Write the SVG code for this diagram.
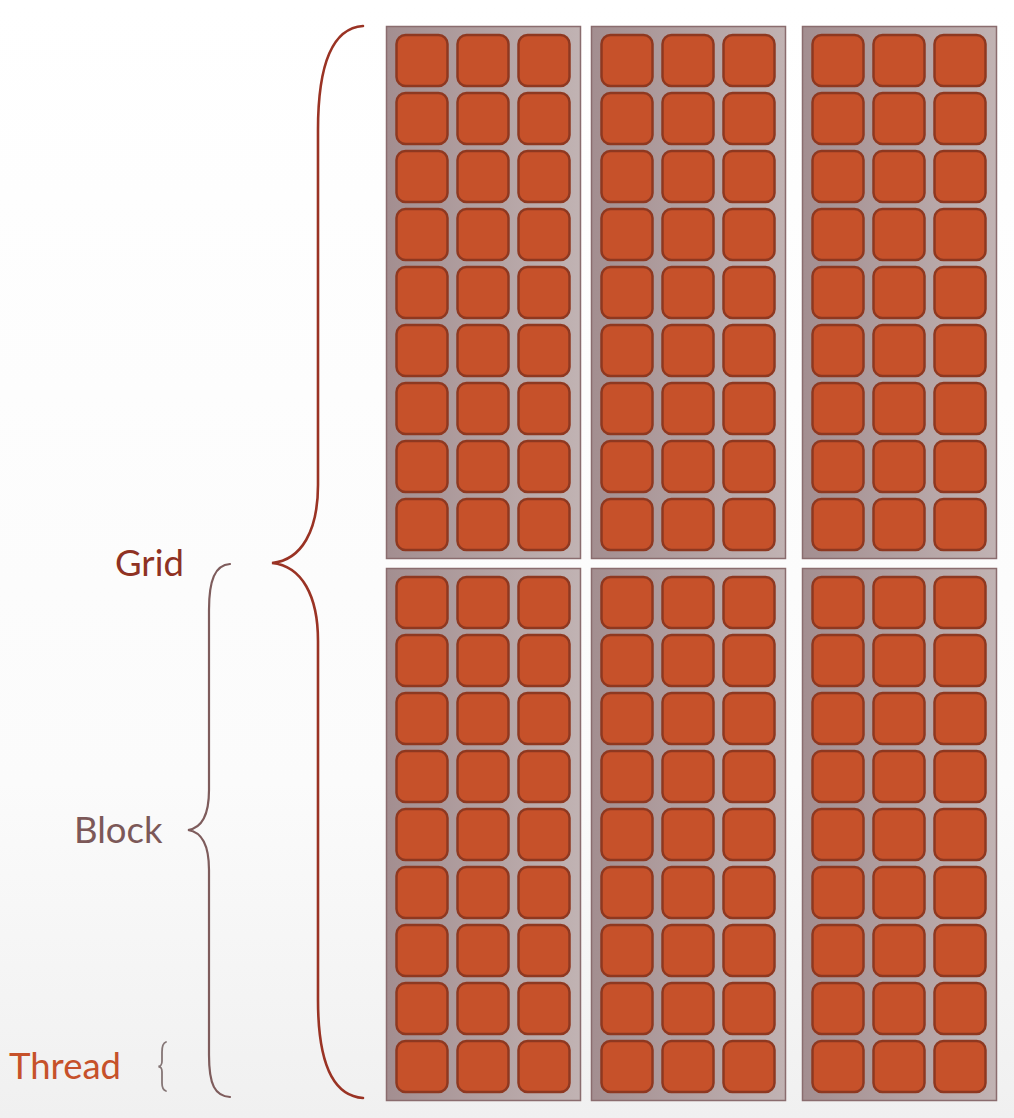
<svg xmlns="http://www.w3.org/2000/svg" xmlns:xlink="http://www.w3.org/1999/xlink" width="1014" height="1118" viewBox="0 0 1014 1118">
<style>
.blk{fill:url(#blkGrad);stroke:#8a6c6e;stroke-width:1.5}
.thr{fill:#c6512a;stroke:#8e3820;stroke-width:2.5}
.lbl{font-family:Lato,"Open Sans","Liberation Sans",sans-serif;font-size:36.5px}
.brace{fill:none;stroke-linecap:round}
</style>
<defs>
<linearGradient id="blkGrad" x1="0" y1="0" x2="1" y2="0">
<stop offset="0" stop-color="#a38e90"/>
<stop offset="1" stop-color="#c1b3b3"/>
</linearGradient>
<linearGradient id="bgGrad" x1="0" y1="0" x2="0" y2="1">
<stop offset="0" stop-color="#ffffff"/>
<stop offset="0.7" stop-color="#fbfbfb"/>
<stop offset="1" stop-color="#f0f0f0"/>
</linearGradient>
<rect id="thread" class="thr" x="0" y="0" width="51" height="51" rx="9" ry="9"/>
<g id="row">
<use xlink:href="#thread" x="0"/>
<use xlink:href="#thread" x="61"/>
<use xlink:href="#thread" x="122"/>
</g>
<g id="cells">
<use xlink:href="#row" y="0"/>
<use xlink:href="#row" y="58"/>
<use xlink:href="#row" y="116"/>
<use xlink:href="#row" y="174"/>
<use xlink:href="#row" y="232"/>
<use xlink:href="#row" y="290"/>
<use xlink:href="#row" y="348"/>
<use xlink:href="#row" y="406"/>
<use xlink:href="#row" y="464"/>
</g>
</defs>
<rect x="0" y="0" width="1014" height="1118" fill="url(#bgGrad)"/>

<g id="block-0-0"><rect class="blk" x="386.5" y="26.5" width="194" height="532"/><use xlink:href="#cells" x="396.5" y="35"/></g>
<g id="block-0-1"><rect class="blk" x="591.5" y="26.5" width="194" height="532"/><use xlink:href="#cells" x="601.5" y="35"/></g>
<g id="block-0-2"><rect class="blk" x="802.5" y="26.5" width="194" height="532"/><use xlink:href="#cells" x="812.5" y="35"/></g>
<g id="block-1-0"><rect class="blk" x="386.5" y="568.5" width="194" height="532"/><use xlink:href="#cells" x="396.5" y="577"/></g>
<g id="block-1-1"><rect class="blk" x="591.5" y="568.5" width="194" height="532"/><use xlink:href="#cells" x="601.5" y="577"/></g>
<g id="block-1-2"><rect class="blk" x="802.5" y="568.5" width="194" height="532"/><use xlink:href="#cells" x="812.5" y="577"/></g>

<g id="connectors">
<path id="brace-grid" class="brace" stroke="#9a3324" stroke-width="2.6" d="M363,26 C334,28 318,60 318,130 L318,485 C318,530 302,560 272,563 C302,566 318,596 318,641 L318,1000 C318,1066 334,1096 363,1098"/>
<path id="brace-block" class="brace" stroke="#7e5c5c" stroke-width="2.2" d="M230,564 C215,565 209,580 209,610 L209,790 C209,815 202,828 188,830 C202,832 209,845 209,870 L209,1055 C209,1085 215,1096 230,1097"/>
<path id="brace-thread" class="brace" stroke="#857676" stroke-width="1.8" d="M166,1042 C163,1043 162,1046 162,1052 L162,1061 C162,1065 161,1066 158.5,1066.5 C161,1067 162,1068 162,1072 L162,1083 C162,1088 163,1090 166,1091"/>
</g>

<g id="label-grid"><text class="lbl" x="115" y="576" fill="#8f3223">Grid</text></g>
<g id="label-block"><text class="lbl" x="74" y="843" fill="#7c5858">Block</text></g>
<g id="label-thread"><text class="lbl" x="9" y="1079" fill="#c6512a">Thread</text></g>
</svg>
